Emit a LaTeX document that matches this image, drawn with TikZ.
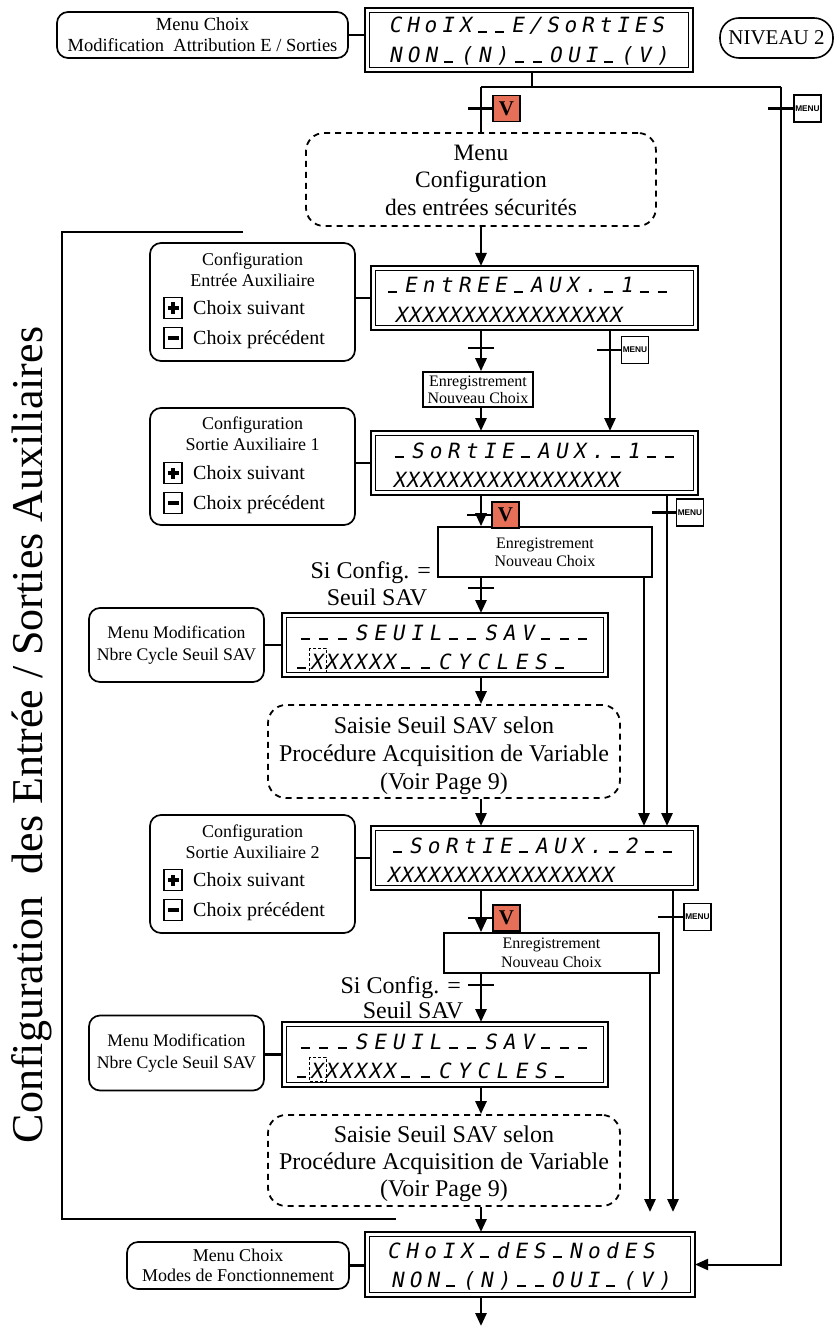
\documentclass[tikz,border=0pt]{standalone}
\usepackage{fontspec}
\setmainfont{Liberation Serif}
\newfontfamily\lcdfont{DejaVu Sans Mono}[FakeSlant=0.18]
\newfontfamily\sansfont{Liberation Sans}
\usetikzlibrary{arrows.meta,calc}
\definecolor{vred}{RGB}{230,111,88}
\newcommand\fs[2][]{\fontsize{#2}{#2}\selectfont}
\newcommand\fsl[2]{\fontsize{#1}{#2}\selectfont}
\newcommand\lu{\rule{9pt}{1.6pt}}
\newcommand\lcdrow[2]{\def\lcdp{#1pt}\lcdloop#2\relax}
\def\lcdloop#1{\ifx\relax#1\else\makebox[\lcdp][c]{#1}\expandafter\lcdloop\fi}
\newcommand\disp[5]{%
  \node[inner sep=0, outer sep=0, minimum width=#4pt-#2pt, minimum height=#5pt-#3pt] (#1) at ({(#2+#4)/2},{(#3+#5)/2}) {};
  \draw[line width=2.8pt] (#1.north west) rectangle (#1.south east);
  \draw[line width=1pt] ([shift={(4.2pt,-4.2pt)}]#1.north west) rectangle ([shift={(-4.2pt,4.2pt)}]#1.south east);
}
\tikzset{
  lbl/.style={draw, line width=1.7pt, rounded corners=11pt, inner sep=0},
  dsh/.style={draw, line width=1.8pt, dash pattern=on 6pt off 5pt, rounded corners=18pt, inner sep=0},
  flow/.style={line width=2.8pt},
  arr/.style={line width=2.8pt, -{Triangle[length=13pt,width=11pt]}},
  bar/.style={line width=2.2pt},
  looparr/.style={line width=2pt, -{Triangle[length=13pt,width=11pt]}},
  frame/.style={line width=1.8pt},
  vbox/.style={draw, line width=1.3pt, fill=vred, minimum width=27pt, minimum height=26pt, inner sep=0, font=\fs{21}\bfseries},
  menubox/.style={draw, line width=1.8pt, fill=white, minimum width=27pt, minimum height=27pt, inner sep=0, font=\sansfont\fs{8.3}\bfseries},
  enr/.style={draw, line width=1.6pt, inner sep=0, align=center},
  pm/.style={draw, line width=1.7pt, minimum width=18pt, minimum height=21pt, inner sep=0},
  pmark/.style={line width=3.4pt},
  txt/.style={inner sep=0, anchor=base},
  lcd/.style={inner sep=0, anchor=base west, font=\lcdfont\fs{21}},
}
\begin{document}
\begin{tikzpicture}[x=1pt,y=-1pt]
\fill[white] (0,0) rectangle (838,1329);
\useasboundingbox (0,0) rectangle (838,1329);

% ---------- top ----------
\node[lbl, minimum width=291pt, minimum height=46pt, align=center, font=\fsl{18.5}{21}] (tl) at (202.5,35) {Menu Choix\\Modification\ \ Attribution E / Sorties};
\disp{d1}{365}{8}{693}{72}
\draw[bar] (tl.east) -- (tl.east -| d1.west);
\node[lcd] (d1a) at (386,33) {\lcdrow{17.5}{CHoIX\lu\lu E/SoRtIES}};
\node[lcd] (d1b) at (386,63) {\lcdrow{17.8}{NON\lu(N)\lu\lu OUI\lu(V)}};
\node[draw, line width=1.6pt, rounded corners=19pt, minimum width=113pt, minimum height=40pt, inner sep=0, font=\fs{21}] (niv) at (776.5,38) {NIVEAU 2};

\coordinate (mx) at (481,0);
\coordinate (tee) at (532,87);
\coordinate (tl0) at (481,87);
\coordinate (tr0) at (781,87);

\node[dsh, minimum width=350pt, minimum height=93pt] (dA) at (481,179.5) {};
\node[align=center, inner sep=0, font=\fsl{23.5}{27.5}] (dAt) at (481,180) {Menu\\Configuration\\des entrées sécurités};

\disp{dF}{365}{1232}{695}{1297}

\draw[flow] (d1.south -| tee) -- (tee);
\draw[bar] (tl0) -- (tr0);
\draw[looparr] (tr0) -- (tr0 |- dF.east) -- (dF.east);
\draw[flow] (tl0) -- (dA.north -| mx);
\node[vbox] (v1) at (506.5,108.5) {V};
\coordinate (v1c) at (468,108.5);
\draw[bar] (v1c) -- (v1.west);
\node[menubox] (m1) at (807.5,108.5) {MENU};
\coordinate (m1c) at (768,108.5);
\draw[bar] (m1c) -- (m1.west);

% ---------- bracket + vertical label ----------
\draw[frame] (243,232) -- (62,232) -- (62,1219) -- (396,1219);
\node[rotate=90, inner sep=0, font=\fs{44}] (vlab) at (32,735) {Configuration\ \ des Entrée / Sorties Auxiliaires};

% ---------- Entree aux ----------
\node[lbl, minimum width=205pt, minimum height=118pt] (b1) at (252.5,302) {};
\node[align=center, inner sep=0, font=\fsl{18}{21}] (b1t) at (252.5,270) {Configuration\\Entrée Auxiliaire};
\node[pm] (b1p) at (173,308) {};
\draw[pmark] ([xshift=-5.5pt]b1p.center) -- ([xshift=5.5pt]b1p.center) ([yshift=-5.5pt]b1p.center) -- ([yshift=5.5pt]b1p.center);
\node[txt, anchor=base west, font=\fs{20}] (b1pt) at (193,314.6) {Choix suivant};
\node[pm] (b1m) at (173,338) {};
\draw[pmark] ([xshift=-5.5pt]b1m.center) -- ([xshift=5.5pt]b1m.center);
\node[txt, anchor=base west, font=\fs{20}] (b1mt) at (193,344.6) {Choix précédent};

\disp{d2}{371}{266}{698}{330}
\node[lcd] (d2a) at (383,293) {\lcdrow{18}{\lu EntREE\lu AUX.\lu 1\lu\lu}};
\node[lcd] (d2b) at (394,322) {\lcdrow{13.4}{XXXXXXXXXXXXXXXXX}};
\draw[bar] (b1.east |- d2.west) -- (d2.west);
\draw[arr] (dA.south -| mx) -- (d2.north -| mx);

\node[enr, minimum width=110pt, minimum height=35pt, font=\fsl{16}{17}] (e1) at (478,389.5) {Enregistrement\\Nouveau Choix};
\draw[arr] (d2.south -| mx) -- (e1.north -| mx);
\draw[bar] (468,348) -- (494,348);
\coordinate (r2) at (610,0);
\draw[arr] (d2.south -| r2) -- ($(r2)+(0,431)$);
\node[menubox] (m2) at (635,350) {MENU};
\draw[bar] (597,350) -- (m2.west);

% ---------- Sortie aux 1 ----------
\node[lbl, minimum width=205pt, minimum height=117pt] (b2) at (252.5,466.5) {};
\node[align=center, inner sep=0, font=\fsl{18}{21}] (b2t) at (252.5,433.5) {Configuration\\Sortie Auxiliaire 1};
\node[pm] (b2p) at (173,473) {};
\draw[pmark] ([xshift=-5.5pt]b2p.center) -- ([xshift=5.5pt]b2p.center) ([yshift=-5.5pt]b2p.center) -- ([yshift=5.5pt]b2p.center);
\node[txt, anchor=base west, font=\fs{20}] (b2pt) at (193,479.6) {Choix suivant};
\node[pm] (b2m) at (173,503) {};
\draw[pmark] ([xshift=-5.5pt]b2m.center) -- ([xshift=5.5pt]b2m.center);
\node[txt, anchor=base west, font=\fs{20}] (b2mt) at (193,509.6) {Choix précédent};

\disp{d3}{371}{431}{698}{495}
\node[lcd] (d3a) at (390,458) {\lcdrow{18}{\lu SoRtIE\lu AUX.\lu 1\lu\lu}};
\node[lcd] (d3b) at (392,487) {\lcdrow{13.4}{XXXXXXXXXXXXXXXXX}};
\draw[bar] (b2.east |- d3.west) -- (d3.west);
\draw[arr] (e1.south -| mx) -- (d3.north -| mx);

\node[enr, minimum width=214pt, minimum height=50pt, font=\fsl{16}{18}] (e2) at (545,552) {Enregistrement\\Nouveau Choix};
\draw[arr] (d3.south -| mx) -- (e2.north -| mx);
\node[vbox] (v2) at (505.5,515) {V};
\draw[bar] (467,515) -- (v2.west);
\coordinate (r3b) at (667,0);
\node[menubox] (m3) at (690,512.5) {MENU};
\draw[bar] (652,512.5) -- (m3.west);

\node[txt, anchor=base east, font=\fs{24}] (si1) at (431,578) {Si Config. =};
\node[txt, font=\fs{24}] (sv1) at (377,605) {Seuil SAV};
\draw[bar] (468,588) -- (494,588);

% ---------- Seuil SAV 1 ----------
\node[lbl, minimum width=175pt, minimum height=74pt, align=center, font=\fsl{17.7}{22}] (mm1) at (176.5,645) {Menu Modification\\Nbre Cycle Seuil SAV};
\disp{d5}{282}{613}{608}{677}
\draw[bar] (mm1.east |- d5.west) -- (d5.west);
\node[lcd] (d5a) at (296,640) {\lcdrow{18.5}{\lu\lu\lu SEUIL\lu\lu SAV\lu\lu\lu}};
\node[lcd] (d5b) at (296,669) {\lcdrow{11}{\lu}};
\node[lcd] (d5c) at (309,669) {\lcdrow{14.5}{XXXXXX}};
\node[lcd] (d5d) at (396,669) {\lcdrow{19.2}{\lu\lu CYCLES\lu}};
\draw[line width=1pt, dash pattern=on 3pt off 2pt] (309,648) rectangle (326,672);
\draw[arr] (e2.south -| mx) -- (d5.north -| mx);

\node[dsh, minimum width=352pt, minimum height=93pt] (dB) at (444,751.5) {};
\node[align=center, inner sep=0, font=\fsl{24}{28}] (dBt) at (444,756) {Saisie Seuil SAV selon\\Procédure Acquisition de Variable\\(Voir Page 9)};
\draw[arr] (d5.south -| mx) -- (dB.north -| mx);

% ---------- Sortie aux 2 ----------
\node[lbl, minimum width=205pt, minimum height=118pt] (b3) at (252.5,874) {};
\node[align=center, inner sep=0, font=\fsl{18}{21}] (b3t) at (252.5,842) {Configuration\\Sortie Auxiliaire 2};
\node[pm] (b3p) at (173,880) {};
\draw[pmark] ([xshift=-5.5pt]b3p.center) -- ([xshift=5.5pt]b3p.center) ([yshift=-5.5pt]b3p.center) -- ([yshift=5.5pt]b3p.center);
\node[txt, anchor=base west, font=\fs{20}] (b3pt) at (193,886.6) {Choix suivant};
\node[pm] (b3m) at (173,910) {};
\draw[pmark] ([xshift=-5.5pt]b3m.center) -- ([xshift=5.5pt]b3m.center);
\node[txt, anchor=base west, font=\fs{20}] (b3mt) at (193,916.6) {Choix précédent};

\disp{d4}{371}{826}{698}{890}
\node[lcd] (d4a) at (388,853) {\lcdrow{18}{\lu SoRtIE\lu AUX.\lu 2\lu\lu}};
\node[lcd] (d4b) at (386,882) {\lcdrow{13.4}{XXXXXXXXXXXXXXXXX}};
\draw[bar] (b3.east |- d4.west) -- (d4.west);
\draw[arr] (dB.south -| mx) -- (d4.north -| mx);
\coordinate (r3a) at (644,0);
\draw[arr] (e2.south -| r3a) -- (d4.north -| r3a);
\draw[arr] (d3.south -| r3b) -- (d4.north -| r3b);

\node[enr, minimum width=215pt, minimum height=40pt, font=\fsl{16}{19}] (e3) at (551.5,953) {Enregistrement\\Nouveau Choix};
\draw[arr] (d4.south -| mx) -- (e3.north -| mx);
\node[vbox] (v3) at (506.5,918) {V};
\draw[bar] (468,918) -- (v3.west);
\coordinate (r4b) at (673,0);
\node[menubox] (m4) at (697.5,917) {MENU};
\draw[bar] (658,917) -- (m4.west);

\node[txt, anchor=base east, font=\fs{24}] (si2) at (461,993) {Si Config. =};
\node[txt, font=\fs{24}] (sv2) at (413,1018) {Seuil SAV};
\draw[bar] (468,985) -- (494,985);

% ---------- Seuil SAV 2 ----------
\node[lbl, minimum width=175pt, minimum height=75pt, align=center, font=\fsl{17.7}{22}] (mm2) at (176.5,1053) {Menu Modification\\Nbre Cycle Seuil SAV};
\disp{d6}{282}{1022}{608}{1087}
\draw[bar] (mm2.east |- d6.west) -- (d6.west);
\node[lcd] (d6a) at (296,1049) {\lcdrow{18.5}{\lu\lu\lu SEUIL\lu\lu SAV\lu\lu\lu}};
\node[lcd] (d6b) at (296,1078) {\lcdrow{11}{\lu}};
\node[lcd] (d6c) at (309,1078) {\lcdrow{14.5}{XXXXXX}};
\node[lcd] (d6d) at (396,1078) {\lcdrow{19.2}{\lu\lu CYCLES\lu}};
\draw[line width=1pt, dash pattern=on 3pt off 2pt] (309,1057) rectangle (326,1081);
\draw[arr] (e3.south -| mx) -- (d6.north -| mx);

\node[dsh, minimum width=352pt, minimum height=91pt] (dC) at (444,1160.5) {};
\node[align=center, inner sep=0, font=\fsl{24}{27}] (dCt) at (444,1164) {Saisie Seuil SAV selon\\Procédure Acquisition de Variable\\(Voir Page 9)};
\draw[arr] (d6.south -| mx) -- (dC.north -| mx);

\coordinate (r4a) at (650,0);
\coordinate (endA) at (650,1212);
\coordinate (endB) at (673,1212);
\draw[arr] (e3.south -| r4a) -- (endA);
\draw[arr] (d4.south -| r4b) -- (endB);

% ---------- final ----------
\node[lbl, minimum width=222pt, minimum height=47pt, align=center, font=\fsl{18}{20}] (fl) at (238,1265.5) {Menu Choix\\Modes de Fonctionnement};
\draw[bar] (fl.east) -- (fl.east -| dF.west);
\node[lcd] (dFa) at (384,1258) {\lcdrow{18.2}{CHoIX\lu dES\lu NodES}};
\node[lcd] (dFb) at (388,1287) {\lcdrow{17.8}{NON\lu(N)\lu\lu OUI\lu(V)}};
\draw[arr] (dC.south -| mx) -- (dF.north -| mx);
\coordinate (bot) at (481,1326);
\draw[arr] (dF.south -| mx) -- (bot);
\end{tikzpicture}
\end{document}
